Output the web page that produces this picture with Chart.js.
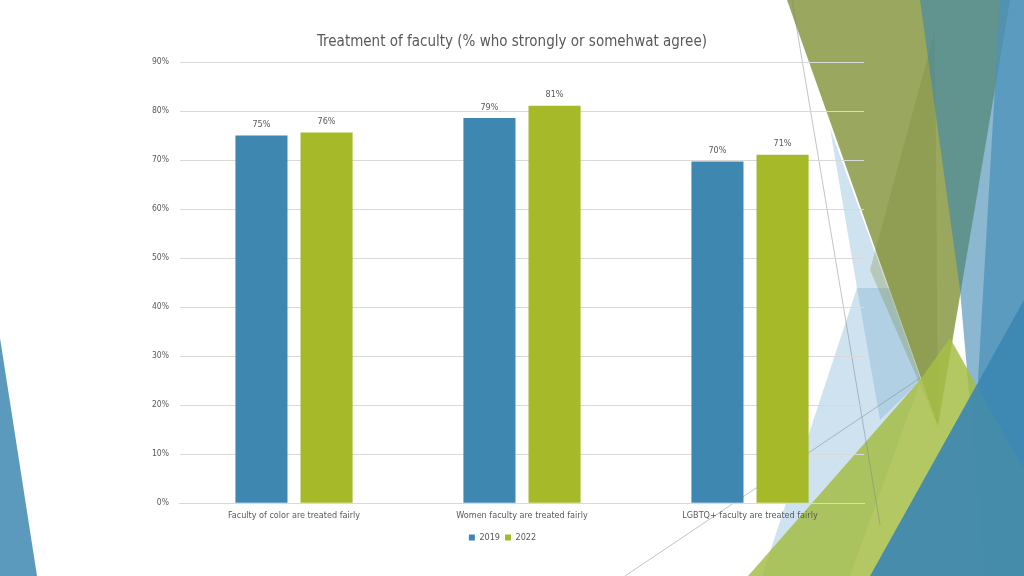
<!DOCTYPE html>
<html>
<head>
<meta charset="utf-8">
<script src="https://cdn.jsdelivr.net/npm/chart.js@4"></script>
<style>
  html, body { margin: 0; padding: 0; background: #fff; }
  #wrap { width: 1024px; height: 576px; position: relative; }
</style>
</head>
<body>
<div id="wrap"><canvas id="chart" width="1024" height="576"></canvas></div>
<script>
const categories = [
  'Faculty of color are treated fairly',
  'Women faculty are treated fairly',
  'LGBTQ+ faculty are treated fairly'
];
const values2019 = [75.0, 78.6, 69.7];
const values2022 = [75.6, 81.1, 71.1];
const yTicks = [0, 10, 20, 30, 40, 50, 60, 70, 80, 90];
const chartTitle = 'Treatment of faculty (% who strongly or somehwat agree)';

const FONT = '"DejaVu Sans Condensed", "DejaVu Sans", sans-serif';

// slide decoration drawn behind the chart
const slideBackground = {
  id: 'slideBackground',
  beforeDraw(chart) {
    const c = chart.ctx;
    const poly = (pts, fill) => {
      c.beginPath();
      c.moveTo(pts[0][0], pts[0][1]);
      for (let i = 1; i < pts.length; i++) c.lineTo(pts[i][0], pts[i][1]);
      c.closePath();
      c.fillStyle = fill;
      c.fill();
    };
    c.save();
    // left sliver
    poly([[0, 338], [37, 576], [0, 576]], 'rgba(62,135,177,0.85)');
    // light blue wedges
    poly([[830, 128], [921, 380], [850, 576], [762, 576], [857, 288]], 'rgba(175,207,228,0.6)');
    poly([[857, 288], [889, 288], [921, 380], [880, 420]], 'rgba(150,190,215,0.5)');
    // olive big triangle
    poly([[787, 0], [1010, 0], [938, 426]], 'rgba(145,160,80,0.92)');
    poly([[935, 30], [870, 270], [938, 426]], 'rgba(120,140,60,0.3)');
    // blue overlay on the right (teal where it crosses olive)
    poly([[920, 0], [1024, 0], [1024, 576], [985, 576], [960, 290]], 'rgba(62,135,177,0.6)');
    poly([[1000, 0], [1024, 0], [1024, 576], [978, 380]], 'rgba(75,145,185,0.75)');
    // yellow green lower triangle
    poly([[748, 576], [920, 380], [950, 338], [1024, 470], [1024, 576]], 'rgba(166,190,70,0.85)');
    // blue lower right triangle
    poly([[870, 576], [1024, 576], [1024, 300]], 'rgba(60,135,180,0.9)');
    // thin lines
    c.strokeStyle = 'rgba(120,130,140,0.6)';
    c.lineWidth = 0.8;
    c.beginPath(); c.moveTo(792, 0); c.lineTo(880, 525); c.stroke();
    c.beginPath(); c.moveTo(625, 576); c.lineTo(920, 378); c.stroke();
    c.restore();
  }
};

// title centred on the slide, value labels above bars
const textLayer = {
  id: 'textLayer',
  afterDatasetsDraw(chart) {
    const c = chart.ctx;
    c.save();
    c.fillStyle = '#595959';
    c.textAlign = 'center';
    c.textBaseline = 'middle';
    c.font = '15px ' + FONT;
    c.fillText(chartTitle, 512, 42);
    c.font = '9px ' + FONT;
    c.textBaseline = 'bottom';
    chart.data.datasets.forEach((ds, i) => {
      chart.getDatasetMeta(i).data.forEach((bar, j) => {
        c.fillText(Math.round(ds.data[j]) + '%', bar.x, bar.y - 6);
      });
    });
    c.restore();
  }
};

new Chart(document.getElementById('chart'), {
  type: 'bar',
  data: {
    labels: categories,
    datasets: [
      { label: '2019', data: values2019, backgroundColor: '#3E87B1' },
      { label: '2022', data: values2022, backgroundColor: '#A6B928' }
    ]
  },
  options: {
    responsive: false,
    animation: false,
    categoryPercentage: 0.571,
    barPercentage: 0.8,
    layout: { padding: { left: 141, right: 160, top: 62, bottom: 24 } },
    plugins: {
      title: { display: false },
      legend: {
        position: 'bottom',
        labels: {
          color: '#595959',
          boxWidth: 6, boxHeight: 6,
          padding: 5,
          font: { family: FONT, size: 9 }
        }
      },
      tooltip: { enabled: false }
    },
    scales: {
      x: {
        grid: { display: false, drawTicks: false },
        border: { color: '#d9d9d9' },
        ticks: {
          color: '#595959',
          padding: 7,
          font: { family: FONT, size: 9 }
        }
      },
      y: {
        min: 0, max: 90,
        afterBuildTicks(axis) { axis.ticks = yTicks.map(v => ({ value: v })); },
        grid: { color: '#d9d9d9', drawTicks: false },
        border: { display: false },
        ticks: {
          color: '#595959',
          padding: 11,
          callback: v => v + '%',
          font: { family: FONT, size: 8.5 }
        }
      }
    }
  },
  plugins: [slideBackground, textLayer]
});
</script>
</body>
</html>
